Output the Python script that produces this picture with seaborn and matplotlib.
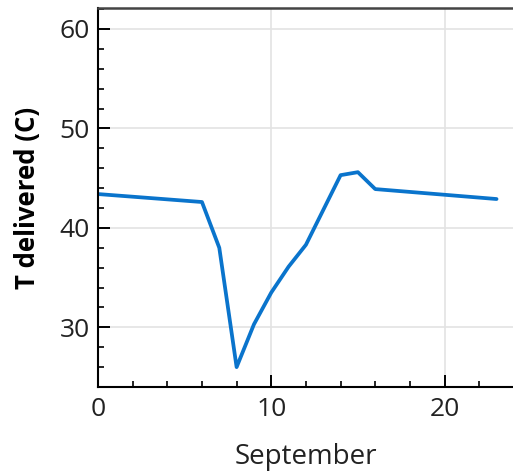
import matplotlib
matplotlib.use('Agg')
import matplotlib.pyplot as plt
from matplotlib.ticker import MultipleLocator
import pandas as pd
import seaborn as sns

# dias de setembro e temperatura entregue
dias = [0, 6, 7, 8, 9, 10, 11, 12, 13, 14, 15, 16, 23]
temperatura = [43.4, 42.6, 38.0, 26.0, 30.3, 33.5, 36.1, 38.3, 41.8, 45.3, 45.6, 43.9, 42.9]

dados = pd.DataFrame({'dia': dias, 'temp': temperatura})

sns.set_theme(style='white')
plt.rcParams['font.family'] = ['Open Sans', 'DejaVu Sans']

fig = plt.figure(figsize=(5.13, 4.74), dpi=100)
ax = fig.add_axes([0.191, 0.1835, 0.809, 0.7995])

sns.lineplot(data=dados, x='dia', y='temp', color='#0a74cc', linewidth=2.7, ax=ax)

ax.set_xlim(0, 23.95)
ax.set_ylim(24, 62.1)

ax.xaxis.set_major_locator(MultipleLocator(10))
ax.xaxis.set_minor_locator(MultipleLocator(2))
ax.yaxis.set_major_locator(MultipleLocator(10))
ax.yaxis.set_minor_locator(MultipleLocator(2))

ax.grid(True, which='major', color='#e3e3e3', linewidth=1.2)
ax.tick_params(which='both', direction='in', color='black', bottom=True, left=True,
               top=False, right=False)
ax.tick_params(which='major', length=8.5, width=1.4, labelsize=19, labelcolor='#222222')
ax.tick_params(axis='x', which='major', pad=7)
ax.tick_params(axis='y', which='major', pad=6)
ax.tick_params(which='minor', length=4.3, width=1.2)

for lado in ['left', 'bottom']:
    ax.spines[lado].set_color('black')
    ax.spines[lado].set_linewidth(1.5)
ax.spines['top'].set_color('#444444')
ax.spines['top'].set_linewidth(1.8)
ax.spines['right'].set_visible(False)

ax.set_xlabel('September', fontsize=20, color='#222222', labelpad=15)
ax.set_ylabel('T delivered (C)', fontsize=18.5, fontweight='bold', color='black', labelpad=13)

fig.savefig('out.png', dpi=100)
